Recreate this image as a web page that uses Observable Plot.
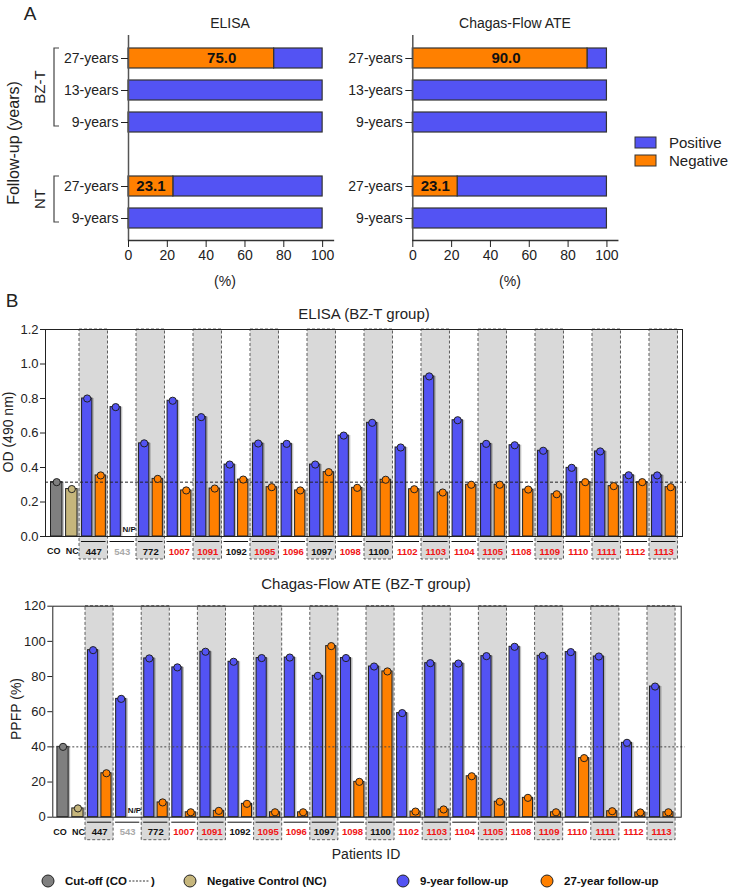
<!DOCTYPE html>
<html>
<head>
<meta charset="utf-8">
<script src="https://cdn.jsdelivr.net/npm/d3@7"></script>
<script src="https://cdn.jsdelivr.net/npm/@observablehq/plot@0.6"></script>
<style>
  body { margin: 0; background: #fff; }
  #fig { position: relative; width: 733px; height: 889px; overflow: hidden;
         font-family: "Liberation Sans", Arial, Helvetica, sans-serif; }
</style>
</head>
<body>
<div id="fig"></div>
<script>
// ---------- Panel A: percentage of positive / negative results per follow-up ----------
const followGroups = ["BZ-T", "BZ-T", "BZ-T", "NT", "NT"];
const followRows = ["27-years", "13-years", "9-years", "27-years", "9-years"];
const elisaNegative = [75.0, 0, 0, 23.1, 0];
const flowNegative = [90.0, 0, 0, 23.1, 0];
const percentTicks = [0, 20, 40, 60, 80, 100];

// ---------- Panel B: individual results, BZ-T group ----------
const patientIds = ["447", "543", "772", "1007", "1091", "1092", "1095", "1096", "1097", "1098", "1100",
  "1102", "1103", "1104", "1105", "1108", "1109", "1110", "1111", "1112", "1113"];
// serological status at the 27-year follow-up: "pos" still reactive, "neg" negative, "na" not performed
const patientStatus = ["pos", "na", "pos", "neg", "neg", "pos", "neg", "neg", "pos", "neg", "pos",
  "neg", "neg", "neg", "neg", "neg", "neg", "neg", "neg", "neg", "neg"];
const elisa9y = [0.80, 0.75, 0.54, 0.787, 0.692, 0.417, 0.539, 0.537, 0.417, 0.585, 0.659,
  0.516, 0.928, 0.674, 0.537, 0.529, 0.497, 0.398, 0.493, 0.355, 0.354];
const elisa27y = [0.354, null, 0.334, 0.267, 0.278, 0.330, 0.286, 0.267, 0.373, 0.282, 0.329,
  0.274, 0.255, 0.300, 0.300, 0.272, 0.245, 0.315, 0.292, 0.315, 0.286];
const flow9y = [95.0, 67.3, 90.3, 85.2, 94.1, 88.4, 90.5, 90.8, 80.4, 90.5, 85.7,
  59.2, 87.6, 87.4, 91.6, 96.9, 91.8, 93.9, 91.4, 42.3, 74.3];
const flow27y = [25.0, null, 8.4, 2.8, 3.6, 7.6, 2.8, 2.8, 97.3, 20.1, 82.9,
  3.2, 4.4, 23.3, 8.8, 11.0, 2.8, 33.6, 3.4, 2.7, 2.8];
const elisaCutoff = 0.315, elisaNegControl = 0.275;
const flowCutoff = 40, flowNegControl = 5;
const elisaTicks = [0, 0.2, 0.4, 0.6, 0.8, 1.0, 1.2];
const flowTicks = [0, 20, 40, 60, 80, 100, 120];

// ---------- styling ----------
const FONT = '"Liberation Sans", Arial, Helvetica, sans-serif';
const BLUE = "#5353f3", ORANGE = "#ff8000";
const SERIES_COLOR = {CO: "#7f7f7f", NC: "#c6b67c", "9": BLUE, "27": ORANGE};
const STATUS_COLOR = {pos: "#111", neg: "#f01414", na: "#a9a9a9"};
const CTRL_POS = {CO: -0.8, NC: -0.27};   // control bars, in patient-slot units
const SLOT9 = 0.27, SLOT27 = 0.745;       // bar centres inside a patient slot
const BOX_DEPTH = 23;                     // label box below the x axis, px

const fig = document.getElementById("fig");
function place(node, left, top) {
  node.style.position = "absolute";
  node.style.left = left + "px";
  node.style.top = top + "px";
  fig.appendChild(node);
  return node;
}

// ---------- Panel A ----------
const rowKeys = followRows.map((r, i) => followGroups[i] + " " + r);
const keyLabel = new Map(rowKeys.map((k, i) => [k, followRows[i]]));
const yDomainA = [...rowKeys.slice(0, 3), "gap", ...rowKeys.slice(3)];

function panelA(negative, width, marginLeft, marginRight) {
  const rows = rowKeys.map((key, i) => ({key, neg: negative[i]}));
  return Plot.plot({
    width, height: 300, marginLeft, marginRight, marginTop: 35, marginBottom: 60,
    style: {fontFamily: FONT, fontSize: "14px", color: "#222", background: "transparent", overflow: "visible"},
    x: {domain: [0, 105.6]},
    y: {type: "band", domain: yDomainA, paddingInner: 0.38, paddingOuter: 0.345},
    marks: [
      Plot.barX(rows, {y: "key", x1: "neg", x2: () => 100, fill: BLUE, stroke: "#333", strokeWidth: 1.2}),
      Plot.barX(rows.filter(d => d.neg > 0), {y: "key", x1: () => 0, x2: "neg", fill: ORANGE, stroke: "#333", strokeWidth: 1.2}),
      Plot.text(rows.filter(d => d.neg > 0), {
        y: "key", x: d => d.neg > 50 ? 48 : d.neg / 2, text: d => d.neg.toFixed(1),
        fontWeight: "bold", fontSize: 15, fill: "#111"
      }),
      Plot.ruleX([0], {stroke: "#555", strokeWidth: 1.5}),
      Plot.frame({anchor: "bottom", stroke: "#333", strokeWidth: 1.3}),
      Plot.axisX({ticks: percentTicks, tickSize: 7, tickPadding: 3, label: null}),
      Plot.axisY({ticks: rowKeys, tickFormat: k => keyLabel.get(k), tickSize: 7, tickPadding: 3, label: null})
    ]
  });
}

const aLeft = place(panelA(elisaNegative, 340, 128, 7), 0, 0);
const aRight = place(panelA(flowNegative, 290, 72.3, 12.7), 340, 0);

// ---------- Panel B ----------
function panelB(cfg) {
  const rows = patientIds.map((id, i) => ({i, id, status: patientStatus[i], v9: cfg.v9[i], v27: cfg.v27[i]}));
  const controls = [
    {pos: CTRL_POS.CO, value: cfg.co, series: "CO", name: "CO"},
    {pos: CTRL_POS.NC, value: cfg.nc, series: "NC", name: "NC"}
  ];
  const bars = [
    ...controls,
    ...rows.flatMap(r => [
      {pos: r.i + SLOT9, value: r.v9, series: "9"},
      {pos: r.i + SLOT27, value: r.v27, series: "27"}
    ])
  ].filter(d => d.value != null);
  const shaded = rows.filter(r => r.i % 2 === 0);
  const missing = rows.filter(r => r.v27 == null);
  const hw = d => (d.series === "CO" || d.series === "NC") ? 0.2 : 0.18;
  const ctrlLabel = (d, dx) => Plot.text([d], {x: "pos", y: () => 0, dx, dy: 15, text: "name", fontWeight: "bold", fontSize: 9, fill: "#111"});
  return Plot.plot({
    width: 733, height: cfg.height,
    marginLeft: cfg.marginLeft, marginRight: cfg.marginRight, marginTop: cfg.marginTop, marginBottom: cfg.marginBottom,
    style: {fontFamily: FONT, fontSize: "13px", color: "#222", background: "transparent", overflow: "visible"},
    x: {domain: cfg.xDomain, axis: null},
    y: {domain: [0, cfg.yMax]},
    color: {type: "identity"},
    marks: [
      Plot.rect(shaded, {
        x1: d => d.i, x2: d => d.i + 1, y1: () => 0, y2: () => cfg.yMax, insetBottom: -BOX_DEPTH,
        fill: "#d9d9d9", stroke: "#3a3a3a", strokeWidth: 0.8, strokeDasharray: "3,2"
      }),
      // soft drop shadow on the right of each bar
      Plot.rect(bars, {
        x1: d => d.pos - hw(d), x2: d => d.pos + hw(d), y1: () => 0, y2: "value",
        dx: 2, fill: "#8c8c8c", fillOpacity: 0.55
      }),
      Plot.rect(bars, {
        x1: d => d.pos - hw(d), x2: d => d.pos + hw(d), y1: () => 0, y2: "value",
        fill: d => SERIES_COLOR[d.series], stroke: "#222", strokeWidth: 1
      }),
      Plot.ruleY([cfg.co], {stroke: cfg.dashColor, strokeDasharray: cfg.dash, strokeWidth: 1, insetRight: -4}),
      Plot.dot(bars, {x: "pos", y: "value", r: 3.6, fill: d => SERIES_COLOR[d.series], stroke: "#222", strokeWidth: 1}),
      Plot.frame({stroke: "#222", strokeWidth: 1}),
      Plot.ruleY(rows, {y: () => 0, x1: d => d.i + 0.07, x2: d => d.i + 0.93, dy: 5, stroke: "#111", strokeWidth: 1}),
      Plot.text(rows, {
        x: d => d.i + 0.5, y: () => 0, dy: 15, text: "id",
        fill: d => STATUS_COLOR[d.status], fontWeight: "bold", fontSize: 9.5
      }),
      ctrlLabel(controls[0], -3),
      ctrlLabel(controls[1], 0.5),
      Plot.text(missing, {x: d => d.i + SLOT27, y: () => 0, dy: -7, text: () => "N/P", fontWeight: "bold", fontSize: 8, fill: "#111"}),
      Plot.axisY({ticks: cfg.ticks, tickFormat: cfg.tickFormat, tickSize: 5, tickPadding: 2, label: null})
    ]
  });
}

place(panelB({
  v9: elisa9y, v27: elisa27y, co: elisaCutoff, nc: elisaNegControl,
  height: 270, marginLeft: 45, marginRight: 51, marginTop: 29, marginBottom: 34,
  xDomain: [-1.193, 21.158], yMax: 1.2, ticks: elisaTicks, tickFormat: d3.format(".1f"),
  dash: "3,2", dashColor: "#222"
}), 0, 300);

place(panelB({
  v9: flow9y, v27: flow27y, co: flowCutoff, nc: flowNegControl,
  height: 265, marginLeft: 52.3, marginRight: 52.3, marginTop: 25.7, marginBottom: 28.3,
  xDomain: [-1.164, 21.2], yMax: 120, ticks: flowTicks, tickFormat: d3.format("d"),
  dash: "2,2", dashColor: "#444"
}), 0, 580);

// ---------- titles, axis labels, brackets and legends ----------
const ov = d3.select(fig).append("svg")
  .attr("width", 733).attr("height", 889)
  .style("position", "absolute").style("left", "0px").style("top", "0px")
  .style("font-family", FONT);

function label(x, y, text, {size = 14, weight = "normal", anchor = "middle", rotate = 0, fill = "#222"} = {}) {
  return ov.append("text")
    .attr("transform", `translate(${x},${y}) rotate(${rotate})`)
    .attr("text-anchor", anchor).attr("dominant-baseline", "central")
    .attr("font-size", size).attr("font-weight", weight).attr("fill", fill)
    .text(text);
}

label(30, 13, "A", {size: 19});
label(12, 300, "B", {size: 19});
label(230, 23, "ELISA", {size: 14});
label(515, 23, "Chagas-Flow ATE", {size: 14});
label(225, 281, "(%)", {size: 14});
label(510, 281, "(%)", {size: 14});
label(13, 143, "Follow-up (years)", {size: 16, rotate: -90});

// group brackets next to the follow-up rows
const yA = aLeft.scale("y");
const rowCentre = k => yA.apply(k) + yA.bandwidth / 2;
[["BZ-T", rowKeys[0], rowKeys[2]], ["NT", rowKeys[3], rowKeys[4]]].forEach(([g, k0, k1]) => {
  const t = rowCentre(k0) - 10, b = rowCentre(k1) + 4;
  ov.append("path").attr("d", `M59,${t}H54V${b}H59`).attr("fill", "none").attr("stroke", "#444").attr("stroke-width", 1.2);
  label(39, (t + b) / 2, g, {size: 15, rotate: -90});
});

// Positive / Negative legend
[["Positive", BLUE, 137], ["Negative", ORANGE, 155]].forEach(([name, c, y]) => {
  ov.append("rect").attr("x", 635).attr("y", y).attr("width", 21).attr("height", 11)
    .attr("fill", c).attr("stroke", "#333").attr("stroke-width", 1);
  label(669, y + 5.5, name, {size: 15, anchor: "start"});
});

label(364, 313, "ELISA (BZ-T group)", {size: 15});
label(366, 583, "Chagas-Flow ATE (BZ-T group)", {size: 15});
label(8, 432, "OD (490 nm)", {size: 14, rotate: -90});
label(16, 709, "PPFP (%)", {size: 14, rotate: -90});
label(366, 854, "Patients ID", {size: 14});

// bottom legend
const legendY = 881;
const legendItems = [
  {c: SERIES_COLOR.CO, x: 48, text: "Cut-off (CO", cut: true},
  {c: SERIES_COLOR.NC, x: 190, text: "Negative Control (NC)"},
  {c: SERIES_COLOR["9"], x: 403, text: "9-year follow-up"},
  {c: SERIES_COLOR["27"], x: 547, text: "27-year follow-up"}
];
legendItems.forEach(it => {
  ov.append("circle").attr("cx", it.x).attr("cy", legendY).attr("r", 6)
    .attr("fill", it.c).attr("stroke", "#222").attr("stroke-width", 1);
  const t = label(it.x + 17, legendY, it.text, {size: 11.5, weight: "bold", anchor: "start", fill: "#111"});
  if (it.cut) {
    const end = it.x + 17 + t.node().getComputedTextLength();
    ov.append("line").attr("x1", end + 2).attr("x2", end + 22).attr("y1", legendY).attr("y2", legendY)
      .attr("stroke", "#333").attr("stroke-width", 1).attr("stroke-dasharray", "2,1.5");
    label(end + 24, legendY, ")", {size: 11.5, weight: "bold", anchor: "start", fill: "#111"});
  }
});
</script>
</body>
</html>
